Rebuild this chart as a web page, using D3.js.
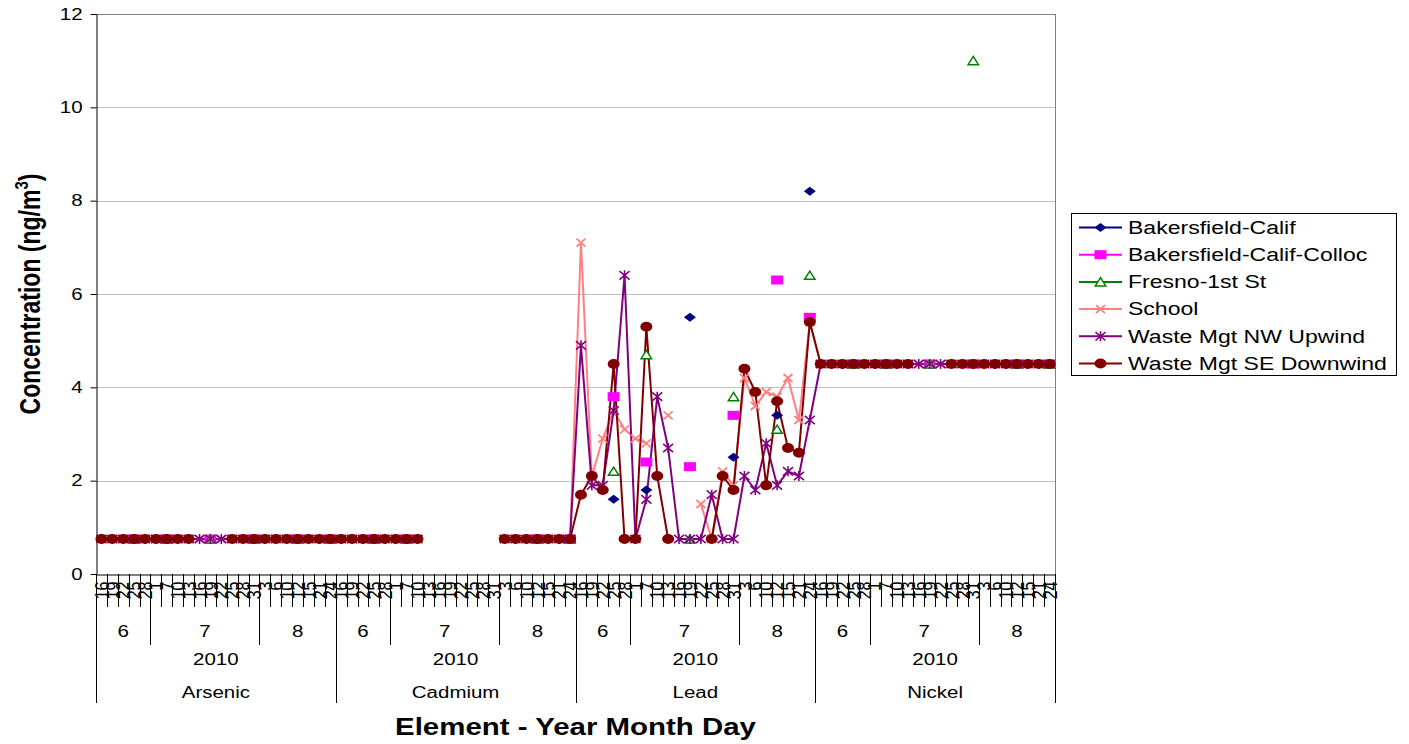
<!DOCTYPE html>
<html><head><meta charset="utf-8">
<script src="https://cdn.jsdelivr.net/npm/d3@7"></script>
<style>
html,body{margin:0;padding:0;background:#fff;}
svg{display:block;font-family:"Liberation Sans",Arial,sans-serif;}
</style></head><body>
<svg id="chart" width="1409" height="744"></svg>
<script>
const _ = null;
// ---- categories ----
const elements = ["Arsenic", "Cadmium", "Lead", "Nickel"];
const years = ["2010"];
const months = ["6", "7", "8"];
const daysJune = [16, 19, 22, 25, 28];
const daysJuly = [1, 7, 10, 13, 16, 19, 22, 25, 28, 31];
const daysAugust = [3, 6, 10, 12, 15, 21, 24];
const yTicks = [0, 2, 4, 6, 8, 10, 12];

// ---- series values (Arsenic | Cadmium | Lead | Nickel), 22 per element ----
const bakersfield = [
  _,_,_,0.75,_,_,0.75,_,_,_,0.75,_,_,_,0.75,_,_,_,0.75,_,_,0.75,
  _,_,_,0.75,_,_,0.75,_,_,_,_,_,_,_,_,_,_,_,0.75,_,_,0.75,
  _,_,_,1.6,_,_,1.8,_,_,_,5.5,_,_,_,2.5,_,_,_,3.4,_,_,8.2,
  _,_,_,4.5,_,_,4.5,_,_,_,4.5,_,_,_,4.5,_,_,_,4.5,_,_,4.5
];
const bakersfieldColloc = [
  _,_,_,0.75,_,_,0.75,_,_,_,0.75,_,_,_,0.75,_,_,_,0.75,_,_,0.75,
  _,_,_,0.75,_,_,0.75,_,_,_,_,_,_,_,_,_,_,_,0.75,_,_,0.75,
  _,_,_,3.8,_,_,2.4,_,_,_,2.3,_,_,_,3.4,_,_,_,6.3,_,_,5.5,
  _,_,_,4.5,_,_,4.5,_,_,_,4.5,_,_,_,4.5,_,_,_,4.5,_,_,4.5
];
const fresno = [
  _,_,_,0.75,_,_,0.75,_,_,_,0.75,_,_,_,0.75,_,_,_,0.75,_,_,0.75,
  _,_,_,0.75,_,_,0.75,_,_,_,_,_,_,_,_,_,_,_,0.75,_,_,0.75,
  _,_,_,2.2,_,_,4.7,_,_,_,0.75,_,_,_,3.8,_,_,_,3.1,_,_,6.4,
  _,_,_,4.5,_,_,4.5,_,_,_,4.5,_,_,_,11,_,_,_,4.5,_,_,4.5
];
const school = [
  0.75,0.75,0.75,0.75,0.75,0.75,0.75,0.75,0.75,0.75,0.75,0.75,0.75,0.75,0.75,0.75,0.75,0.75,0.75,0.75,0.75,0.75,
  0.75,0.75,0.75,0.75,0.75,0.75,0.75,0.75,_,_,_,_,_,_,_,0.75,0.75,0.75,0.75,0.75,0.75,0.75,
  7.1,2.1,2.9,3.5,3.1,2.9,2.8,_,3.4,_,_,1.5,0.75,2.2,1.9,4.2,3.6,3.9,3.8,4.2,3.3,5.4,
  4.5,4.5,4.5,4.5,4.5,4.5,4.5,4.5,4.5,4.5,4.5,4.5,4.5,4.5,4.5,4.5,4.5,4.5,4.5,4.5,4.5,4.5
];
const wasteNW = [
  0.75,0.75,0.75,0.75,0.75,0.75,0.75,0.75,0.75,0.75,0.75,0.75,0.75,0.75,0.75,0.75,0.75,0.75,0.75,0.75,0.75,0.75,
  0.75,0.75,0.75,0.75,0.75,0.75,0.75,0.75,_,_,_,_,_,_,_,0.75,0.75,0.75,0.75,0.75,0.75,0.75,
  4.9,1.9,1.9,3.5,6.4,0.75,1.6,3.8,2.7,0.75,0.75,0.75,1.7,0.75,0.75,2.1,1.8,2.8,1.9,2.2,2.1,3.3,
  4.5,4.5,4.5,4.5,4.5,4.5,4.5,4.5,4.5,4.5,4.5,4.5,4.5,4.5,4.5,4.5,4.5,4.5,4.5,4.5,4.5,4.5
];
const wasteSE = [
  0.75,0.75,0.75,0.75,0.75,0.75,0.75,0.75,0.75,_,_,_,0.75,0.75,0.75,0.75,0.75,0.75,0.75,0.75,0.75,0.75,
  0.75,0.75,0.75,0.75,0.75,0.75,0.75,0.75,_,_,_,_,_,_,_,0.75,0.75,0.75,0.75,0.75,0.75,0.75,
  1.7,2.1,1.8,4.5,0.75,0.75,5.3,2.1,0.75,_,_,_,0.75,2.1,1.8,4.4,3.9,1.9,3.7,2.7,2.6,5.4,
  4.5,4.5,4.5,4.5,4.5,4.5,4.5,4.5,4.5,_,_,_,4.5,4.5,4.5,4.5,4.5,4.5,4.5,4.5,4.5,4.5
];
const seriesNames = ["Bakersfield-Calif", "Bakersfield-Calif-Colloc", "Fresno-1st St", "School", "Waste Mgt NW Upwind", "Waste Mgt SE Downwind"];
const seriesValues = [bakersfield, bakersfieldColloc, fresno, school, wasteNW, wasteSE];
const seriesColors = ["#000080", "#FF00FF", "#008000", "#FF8080", "#800080", "#800000"];
const seriesMarkers = ["diamond", "square", "triangle", "x", "star", "circle"];

// ---- build categories ----
const daysByMonth = [daysJune, daysJuly, daysAugust];
const categories = [];
elements.forEach(el => years.forEach(yr => months.forEach((mo, mi) =>
  daysByMonth[mi].forEach(d => categories.push({el, yr, mo, day: d, key: `${el}|${yr}|${mo}|${d}`})))));

const SX = 1.28;
const pL = 96, pR = 1055, pT = 14, pB = 574;
const svg = d3.select("#chart");

const x = d3.scaleBand().domain(categories.map(c => c.key)).range([pL, pR]).padding(0);
const y = d3.scaleLinear().domain([0, 12]).range([pB, pT]);
const cx = k => x(k) + x.bandwidth() / 2;
const step = x.step();

// gridlines
svg.append("g").selectAll("line").data(yTicks.filter(t => t > 0)).join("line")
  .attr("x1", pL).attr("x2", pR)
  .attr("y1", d => Math.round(y(d)) + 0.5).attr("y2", d => Math.round(y(d)) + 0.5)
  .attr("stroke", "#c0c0c0").attr("stroke-width", 1);
// plot border right/top
svg.append("line").attr("x1", pR + 0.5).attr("x2", pR + 0.5).attr("y1", pT).attr("y2", pB)
  .attr("stroke", "#808080");
svg.append("line").attr("x1", pL).attr("x2", pR).attr("y1", pT + 0.5).attr("y2", pT + 0.5)
  .attr("stroke", "#808080");

// y axis
const yAxis = d3.axisLeft(y).tickValues(yTicks).tickSize(6).tickSizeOuter(0).tickPadding(8).tickFormat(d3.format("d"));
const gy = svg.append("g").attr("transform", `translate(${pL + 0.5},0)`).call(yAxis);
gy.select(".domain").attr("stroke", "#000");
gy.selectAll(".tick line").attr("stroke", "#000");
gy.selectAll(".tick text").attr("font-size", 16).attr("fill", "#000")
  .attr("font-family", "Liberation Sans, Arial, sans-serif")
  .attr("x", -14 / SX).attr("transform", `scale(${SX},1)`);

// x axis (day labels)
const keyToCat = new Map(categories.map(c => [c.key, c]));
const xAxis = d3.axisBottom(x).tickSize(0).tickSizeOuter(0).tickFormat(k => keyToCat.get(k).day);
const gx = svg.append("g").attr("transform", `translate(0,${pB + 0.5})`).call(xAxis);
gx.select(".domain").attr("stroke", "#000");
gx.selectAll(".tick text").attr("font-size", 16).attr("fill", "#000")
  .attr("font-family", "Liberation Sans, Arial, sans-serif")
  .attr("x", 0).attr("y", 0).attr("dy", "0.35em").attr("text-anchor", "end")
  .attr("transform", `translate(0,7) scale(${SX},1) rotate(-90)`);

// category separators
const sepData = d3.range(categories.length + 1).map(i => {
  const a = categories[i - 1], b = categories[i];
  let end = 607;
  if (!a || !b || a.el !== b.el) end = 703;
  else if (a.yr !== b.yr) end = 676;
  else if (a.mo !== b.mo) end = 645;
  return {xp: Math.round(pL + i * step) + 0.5, end};
});
svg.append("g").selectAll("line").data(sepData).join("line")
  .attr("x1", d => d.xp).attr("x2", d => d.xp).attr("y1", pB).attr("y2", d => d.end)
  .attr("stroke", "#000").attr("stroke-width", 1);

// group labels
function groupLabels(keyFn, labelFn, baseline) {
  const groups = d3.groups(categories.map((c, i) => ({c, i})), d => keyFn(d.c));
  svg.append("g").selectAll("text").data(groups).join("text")
    .attr("transform", g => {
      const i0 = g[1][0].i, i1 = g[1][g[1].length - 1].i;
      const mid = (x(categories[i0].key) + x(categories[i1].key) + step) / 2;
      return `translate(${mid},${baseline}) scale(${SX},1)`;
    })
    .attr("text-anchor", "middle").attr("font-size", 16).attr("fill", "#000")
    .text(g => labelFn(g[1][0].c));
}
groupLabels(c => c.el + c.yr + c.mo, c => c.mo, 637);
groupLabels(c => c.el + c.yr, c => c.yr, 665);
groupLabels(c => c.el, c => c.el, 698);

// markers
function markerPath(t) {
  switch (t) {
    case "diamond": return "M0,-4.5L6,0L0,4.5L-6,0Z";
    case "square": return "M-6,-4.5H6V4.5H-6Z";
    case "triangle": return "M0,-4.2L5.2,4L-5.2,4Z";
    case "x": return "M-4.5,-4L4.5,4M4.5,-4L-4.5,4";
    case "star": return "M-5,-4.2L5,4.2M5,-4.2L-5,4.2M0,-5L0,5";
    case "circle": return "M6,0A6,5 0 1,1 -6,0A6,5 0 1,1 6,0Z";
  }
}
function styleMarker(sel, t, color) {
  if (t === "diamond" || t === "square" || t === "circle") sel.attr("fill", color).attr("stroke", "none");
  else if (t === "triangle") sel.attr("fill", "#fff").attr("stroke", color).attr("stroke-width", 1.5);
  else sel.attr("fill", "none").attr("stroke", color).attr("stroke-width", t === "x" ? 1.8 : 1.6);
}

const seriesData = seriesNames.map((name, si) => ({
  name, color: seriesColors[si], marker: seriesMarkers[si],
  pts: categories.map((c, i) => ({key: c.key, v: seriesValues[si][i]}))
}));

const line = d3.line().defined(d => d.v != null).x(d => cx(d.key)).y(d => y(d.v));
const gLines = svg.append("g");
seriesData.forEach(s => {
  gLines.append("path").attr("d", line(s.pts)).attr("fill", "none")
    .attr("stroke", s.color).attr("stroke-width", 2).attr("stroke-linejoin", "round");
});
const gMarks = svg.append("g");
seriesData.forEach(s => {
  const m = gMarks.append("g").selectAll("path").data(s.pts.filter(d => d.v != null)).join("path")
    .attr("d", markerPath(s.marker))
    .attr("transform", d => `translate(${cx(d.key)},${y(d.v)})`);
  styleMarker(m, s.marker, s.color);
});

// legend
const lg = svg.append("g");
lg.append("rect").attr("x", 1071.5).attr("y", 213.5).attr("width", 325).attr("height", 162)
  .attr("fill", "#fff").attr("stroke", "#000").attr("stroke-width", 1);
seriesData.forEach((s, i) => {
  const yy = 227.5 + i * 27.2;
  lg.append("line").attr("x1", 1079).attr("x2", 1122).attr("y1", yy).attr("y2", yy)
    .attr("stroke", s.color).attr("stroke-width", 2);
  const m = lg.append("path").attr("d", markerPath(s.marker)).attr("transform", `translate(1100.5,${yy})`);
  styleMarker(m, s.marker, s.color);
  lg.append("text").attr("transform", `translate(1128,${yy}) scale(${SX},1)`)
    .attr("dy", "0.35em").attr("font-size", 18).attr("fill", "#000").text(s.name);
});

// axis titles
svg.append("text").attr("transform", `translate(${(pL + pR) / 2},735) scale(${SX},1)`)
  .attr("text-anchor", "middle").attr("font-size", 23).attr("font-weight", "bold").attr("fill", "#000")
  .text("Element - Year Month Day");
const yt = svg.append("text").attr("transform", `translate(40,${(pT + pB) / 2}) scale(${SX},1) rotate(-90)`)
  .attr("text-anchor", "middle").attr("font-size", 23).attr("font-weight", "bold").attr("fill", "#000");
yt.append("tspan").text("Concentration (ng/m");
yt.append("tspan").attr("font-size", 15).attr("dy", -9).text("3");
yt.append("tspan").attr("dy", 9).text(")");
</script>
</body></html>
